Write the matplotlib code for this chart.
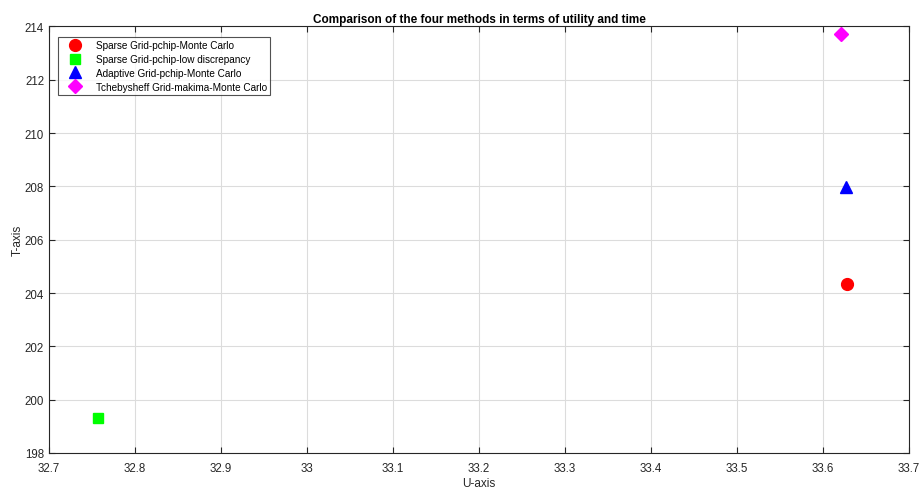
import matplotlib.pyplot as plt

plt.rcParams['font.family'] = ['Liberation Sans', 'DejaVu Sans']

# data
labels = ['Sparse Grid-pchip-Monte Carlo',
          'Sparse Grid-pchip-low discrepancy',
          'Adaptive Grid-pchip-Monte Carlo',
          'Tchebysheff Grid-makima-Monte Carlo']
u_vals = [33.628, 32.757, 33.627, 33.621]
t_vals = [204.35, 199.33, 207.97, 213.73]
markers = ['o', 's', '^', 'D']
colors = ['#ff0000', '#00ff00', '#0000ff', '#ff00ff']
sizes = [8.5, 6.5, 9, 7]

fig = plt.figure(figsize=(9.2, 4.89), dpi=100)
ax = fig.add_axes([0.0533, 0.0716, 0.9347, 0.8722])

for u, t, m, c, s, lab in zip(u_vals, t_vals, markers, colors, sizes, labels):
    ax.plot(u, t, linestyle='none', marker=m, color=c, markersize=s, label=lab)

ax.set_xlim(32.7, 33.7)
ax.set_ylim(198, 214)
ax.set_xticks([32.7 + 0.1 * i for i in range(11)])
ax.set_xticklabels(['32.7', '32.8', '32.9', '33', '33.1', '33.2', '33.3',
                    '33.4', '33.5', '33.6', '33.7'])
ax.set_yticks(range(198, 215, 2))
ax.grid(True, color='#dcdcdc', linewidth=0.8)
ax.set_axisbelow(True)
ax.tick_params(direction='in', top=True, right=True, labelsize=8.3,
               colors='#262626', length=4, width=0.8)
ax.tick_params(axis='x', pad=6.5)
for sp in ax.spines.values():
    sp.set_color('#262626')
    sp.set_linewidth(0.8)

ax.set_xlabel('U-axis', fontsize=8.5, color='#262626', labelpad=2)
ax.set_ylabel('T-axis', fontsize=8.5, color='#262626', labelpad=0.5)
ax.set_title('Comparison of the four methods in terms of utility and time',
             fontsize=8.5, fontweight='bold', pad=3.5)

leg = ax.legend(loc='upper left', bbox_to_anchor=(0.0105, 0.976),
                borderaxespad=0, fontsize=7.2,
                frameon=True, fancybox=False, edgecolor='#262626',
                handletextpad=0.8, labelspacing=0.38, borderpad=0.35,
                handlelength=2.6)
leg.get_frame().set_linewidth(0.8)

fig.savefig('out.png', dpi=100)
